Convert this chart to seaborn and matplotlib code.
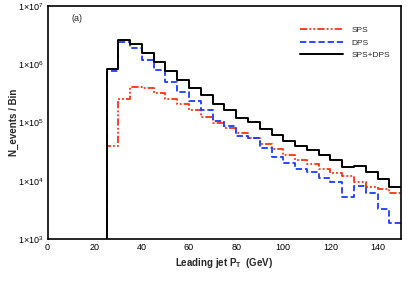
import numpy as np
import pandas as pd
import matplotlib
matplotlib.use("Agg")
import matplotlib.pyplot as plt
from matplotlib.ticker import FixedLocator, MultipleLocator, LogLocator, NullFormatter
import seaborn as sns

# ---- data (5 GeV bins from 20 to 150 GeV; the 20-25 bin is empty) ----
pt_centers = [22.5, 27.5, 32.5, 37.5, 42.5, 47.5, 52.5, 57.5, 62.5, 67.5, 72.5,
              77.5, 82.5, 87.5, 92.5, 97.5, 102.5, 107.5, 112.5, 117.5, 122.5,
              127.5, 132.5, 137.5, 142.5, 147.5]

sps = [0, 3.95e4, 2.50e5, 4.02e5, 3.86e5, 3.27e5, 2.53e5, 2.06e5, 1.62e5, 1.26e5, 9.93e4,
       8.21e4, 6.65e4, 5.52e4, 4.33e4, 3.47e4, 2.82e4, 2.27e4, 1.98e4, 1.61e4, 1.36e4,
       1.21e4, 9.6e3, 7.96e3, 7.36e3, 6.09e3]
dps = [0, 7.81e5, 2.38e6, 1.88e6, 1.18e6, 7.97e5, 5.01e5, 3.30e5, 2.36e5, 1.66e5, 1.06e5,
       8.81e4, 5.86e4, 5.35e4, 3.61e4, 2.56e4, 2.04e4, 1.58e4, 1.39e4, 1.11e4, 9.6e3,
       5.3e3, 8.3e3, 6.2e3, 3.3e3, 1.86e3]
total = [0, 8.2e5, 2.58e6, 2.25e6, 1.58e6, 1.08e6, 7.57e5, 5.30e5, 3.99e5, 2.96e5, 2.12e5,
         1.67e5, 1.22e5, 1.04e5, 7.89e4, 6.10e4, 4.81e4, 3.95e4, 3.41e4, 2.77e4, 2.30e4,
         1.76e4, 1.83e4, 1.43e4, 1.08e4, 7.9e3]

labels = ["SPS", "DPS", "SPS+DPS"]
x_ticks = [0, 20, 40, 60, 80, 100, 120, 140]
y_ticks = [1e3, 1e4, 1e5, 1e6, 1e7]
y_tick_labels = [r"1$\times$10$^{3}$", r"1$\times$10$^{4}$", r"1$\times$10$^{5}$",
                 r"1$\times$10$^{6}$", r"1$\times$10$^{7}$"]

sns.set_theme(style="white")
plt.rcParams["font.family"] = ["Liberation Sans", "DejaVu Sans"]
plt.rcParams["mathtext.fontset"] = "custom"
plt.rcParams["mathtext.rm"] = "Liberation Sans"
plt.rcParams["mathtext.it"] = "Liberation Sans:italic"
plt.rcParams["mathtext.bf"] = "Liberation Sans:bold"

fig = plt.figure(figsize=(4.07, 2.87), dpi=100)
ax = fig.add_axes([0.117, 0.167, 0.8687, 0.812])

df = pd.DataFrame({"pt": pt_centers, "SPS": sps, "DPS": dps, "SPS+DPS": total})

styles = {
    "SPS": dict(color="#ff3010", dashes=(4, 1.2, 1, 1.2, 1, 1.2), lw=1.3),
    "DPS": dict(color="#1a3cff", dashes=(3.5, 1.6), lw=1.3),
    "SPS+DPS": dict(color="black", lw=1.4),
}

for lab in labels:
    st = dict(styles[lab])
    sns.histplot(data=df, x="pt", weights=lab, binwidth=5, binrange=(20, 150),
                 element="step", fill=False, ax=ax, label=lab, **st)

ax.set_yscale("log", nonpositive="clip")
ax.set_xlim(0, 150)
ax.set_ylim(1e3, 1e7)

ax.xaxis.set_major_locator(FixedLocator(x_ticks))
ax.xaxis.set_minor_locator(MultipleLocator(5))
ax.set_xticklabels([str(t) for t in x_ticks])
ax.yaxis.set_major_locator(FixedLocator(y_ticks))
ax.set_yticklabels(y_tick_labels)
ax.yaxis.set_minor_locator(LogLocator(base=10, subs=np.arange(2, 10)))
ax.yaxis.set_minor_formatter(NullFormatter())

ax.tick_params(axis="both", which="both", direction="in", top=False, right=False,
               labelsize=6.5, colors="black", pad=3)
ax.tick_params(axis="both", which="major", length=4, width=0.9)
ax.tick_params(axis="both", which="minor", length=2.2, width=0.7)

for sp in ax.spines.values():
    sp.set_linewidth(1.2)
    sp.set_color("black")

ax.set_xlabel(r"Leading jet P$_{\mathbf{T}}$  (GeV)", fontsize=7, fontweight="bold", labelpad=3)
ax.set_ylabel("N_events / Bin", fontsize=7, fontweight="bold")
ax.yaxis.set_label_coords(-0.082, 0.5)

ax.text(0.083, 0.948, "(a)", transform=ax.transAxes, fontsize=6.5, ha="center", va="center")

leg = ax.legend(loc="upper right", bbox_to_anchor=(0.99, 0.945), frameon=False, fontsize=6,
                handlelength=5.2, handletextpad=1.0, labelspacing=0.55)

fig.savefig("out.png", dpi=100)
